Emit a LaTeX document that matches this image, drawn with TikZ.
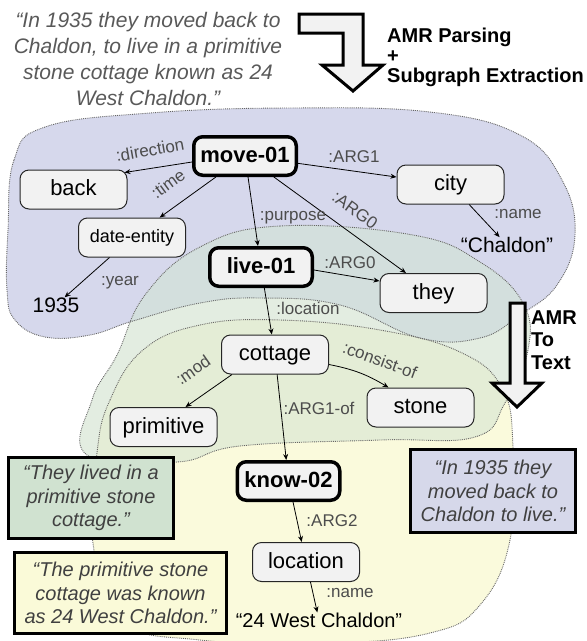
\documentclass[tikz,border=0pt]{standalone}
\usepackage{fontspec}
\setmainfont{Liberation Sans}
\usetikzlibrary{arrows.meta}
\definecolor{purpleC}{HTML}{D6D8EC}
\definecolor{greenC}{HTML}{E3EDE1}
\definecolor{tealC}{HTML}{D3DFDD}
\definecolor{ygC}{HTML}{E4EDD6}
\definecolor{yellowC}{HTML}{FAFADC}
\definecolor{nodeC}{HTML}{F2F2F2}
\definecolor{gboxC}{HTML}{D0E2D0}
\definecolor{pboxC}{HTML}{D6D8EA}
\definecolor{yboxC}{HTML}{FAFAD8}
\begin{document}
\begin{tikzpicture}[x=1pt,y=-1pt,
  amr/.style={draw=black!85, line width=1pt, fill=nodeC, rounded corners=9pt,
    minimum width=107pt, minimum height=39pt, inner sep=0pt,
    text height=15pt, text depth=3pt, font=\fontsize{22}{26}\selectfont},
  amrb/.style={amr, draw=black, line width=3.5pt, minimum width=102.5pt,
    minimum height=38.5pt, font=\bfseries\fontsize{22}{26}\selectfont},
  txt/.style={inner sep=0pt, font=\fontsize{21}{25}\selectfont},
  lbl/.style={inner sep=0pt, text=black!70, font=\fontsize{17}{20}\selectfont},
  arr/.style={-{Stealth[length=6pt,width=5pt]}, line width=0.8pt, black},
  blobline/.style={densely dotted, line width=0.9pt, black!60},
  tbox/.style={draw=black, line width=3pt, inner sep=0pt, align=center,
    text=black!75, font=\itshape\fontsize{20}{23.5}\selectfont},
  bigarrow/.style={draw=black, line width=3pt, fill=nodeC, line join=miter},
  steplbl/.style={inner sep=0pt, align=left, font=\bfseries\fontsize{20}{20}\selectfont}
]
\useasboundingbox (0,0) rectangle (587,641);

% ---- blobs ----
\fill[purpleC] plot[smooth cycle, tension=0.7] coordinates {(8,230) (14,160) (45,127) (150,113) (290,108) (430,112) (520,135) (562,180) (575,235) (557,285) (520,315) (480,338) (420,338) (340,305) (260,298) (200,303) (133,321) (90,335) (45,337) (15,320) (7,290)};
\fill[greenC] plot[smooth cycle, tension=0.7] coordinates {(200,247) (280,226) (413,235) (480,262) (523,303) (528,350) (505,403) (475,437) (380,440) (240,446) (177,462) (87,455) (92,400) (117,355) (145,295)};
\fill[yellowC] plot[smooth cycle, tension=0.7] coordinates {(97,453) (110,400) (143,350) (200,325) (280,320) (380,330) (460,352) (502,388) (513,447) (510,540) (480,605) (430,633) (330,643) (200,640) (120,620) (93,543)};
\begin{scope}
\clip plot[smooth cycle, tension=0.7] coordinates {(200,247) (280,226) (413,235) (480,262) (523,303) (528,350) (505,403) (475,437) (380,440) (240,446) (177,462) (87,455) (92,400) (117,355) (145,295)};
\fill[tealC] plot[smooth cycle, tension=0.7] coordinates {(8,230) (14,160) (45,127) (150,113) (290,108) (430,112) (520,135) (562,180) (575,235) (557,285) (520,315) (480,338) (420,338) (340,305) (260,298) (200,303) (133,321) (90,335) (45,337) (15,320) (7,290)};
\fill[ygC] plot[smooth cycle, tension=0.7] coordinates {(97,453) (110,400) (143,350) (200,325) (280,320) (380,330) (460,352) (502,388) (513,447) (510,540) (480,605) (430,633) (330,643) (200,640) (120,620) (93,543)};
\end{scope}
\draw[blobline] plot[smooth cycle, tension=0.7] coordinates {(8,230) (14,160) (45,127) (150,113) (290,108) (430,112) (520,135) (562,180) (575,235) (557,285) (520,315) (480,338) (420,338) (340,305) (260,298) (200,303) (133,321) (90,335) (45,337) (15,320) (7,290)};
\draw[blobline] plot[smooth cycle, tension=0.7] coordinates {(200,247) (280,226) (413,235) (480,262) (523,303) (528,350) (505,403) (475,437) (380,440) (240,446) (177,462) (87,455) (92,400) (117,355) (145,295)};
\draw[blobline] plot[smooth cycle, tension=0.7] coordinates {(97,453) (110,400) (143,350) (200,325) (280,320) (380,330) (460,352) (502,388) (513,447) (510,540) (480,605) (430,633) (330,643) (200,640) (120,620) (93,543)};

% ---- top sentence and arrows ----
\node[align=center, inner sep=0pt, text=black!65, font=\itshape\fontsize{21}{26}\selectfont] (sent) at (148,59)
  {“In 1935 they moved back to\\Chaldon, to live in a primitive\\stone cottage known as 24\\West Chaldon.”};
\draw[bigarrow] (299,14) -- (363,14) -- (363,65) -- (383,65) -- (353,91) -- (322,65) -- (343,65) -- (343,33) -- (299,33) -- cycle;
\node[steplbl, anchor=west] (parse) at (387,57) {AMR Parsing\\+\\Subgraph Extraction};
\draw[bigarrow] (510,303) -- (525,303) -- (525,383) -- (542,383) -- (517,407) -- (492,383) -- (510,383) -- cycle;
\node[steplbl, anchor=west, font=\bfseries\fontsize{20}{22.5}\selectfont] (totext) at (531,340) {AMR\\To\\Text};

% ---- AMR nodes ----
\node[amrb] (move) at (245,156) {move-01};
\node[amr] (back) at (73.5,189.5) {back};
\node[amr, font=\fontsize{18}{20}\selectfont, text height=13pt] (date) at (132,237.5) {date-entity};
\node[amr] (city) at (450.5,184.5) {city};
\node[txt] (chaldon) at (507,245) {“Chaldon”};
\node[txt] (y1935) at (56,305) {1935};
\node[amrb] (live) at (261,267) {live-01};
\node[amr] (they) at (433.5,293) {they};
\node[amr] (cottage) at (275,354.5) {cottage};
\node[amr] (prim) at (163.5,427) {primitive};
\node[amr] (stone) at (420.5,407.5) {stone};
\node[amrb] (know) at (288.5,481) {know-02};
\node[amr] (loc) at (306,562) {location};
\node[txt, font=\fontsize{20}{24}\selectfont] (wc) at (319,620) {“24 West Chaldon”};

% ---- edges ----
\draw[arr] ([yshift=-6pt]move.west) -- ([xshift=-3pt,yshift=-3pt]back.north east);
\draw[arr] (move) -- (date);
\draw[arr] (move) -- (live);
\draw[arr] (move) -- (city);
\draw[arr] (move) -- (they);
\draw[arr] ([yshift=-3pt]live.east) -- ([yshift=12pt]they.west);
\draw[arr] (city) -- (chaldon);
\draw[arr] (date) -- (y1935);
\draw[arr] (live) -- (cottage);
\draw[arr] ([xshift=11pt]cottage.south west) -- ([xshift=22pt]prim.north);
\draw[arr] ([yshift=-10pt]cottage.east) to[bend left=10] ([xshift=-32pt]stone.north);
\draw[arr] (cottage) -- (know);
\draw[arr] (know) -- (loc);
\draw[arr] (loc) -- (wc);

% ---- edge labels ----
\node[lbl, rotate=10] (ldir) at (150,150) {:direction};
\node[lbl, rotate=36] (ltime) at (168,184) {:time};
\node[lbl] (lpurp) at (293,218) {:purpose};
\node[lbl] (larg1) at (354,157) {:ARG1};
\node[lbl, rotate=-36] (larg0a) at (355,210) {:ARG0};
\node[lbl] (lname1) at (518,214) {:name};
\node[lbl] (larg0b) at (350,263) {:ARG0};
\node[lbl] (lyear) at (120,283) {:year};
\node[lbl] (lloc) at (308,308) {:location};
\node[lbl, rotate=35] (lmod) at (193,370) {:mod};
\node[lbl, rotate=-20] (lcons) at (380,360) {:consist-of};
\node[lbl] (larg1of) at (319,408) {:ARG1-of};
\node[lbl] (larg2) at (332,521) {:ARG2};
\node[lbl] (lname2) at (350,593) {:name};

% ---- text boxes ----
\node[tbox, fill=gboxC, minimum width=165pt, minimum height=81pt] (gbox) at (91,498)
  {“They lived in a\\primitive stone\\cottage.”};
\node[tbox, fill=pboxC, minimum width=165pt, minimum height=83pt] (pbox) at (493,491)
  {“In 1935 they\\moved back to\\Chaldon to live.”};
\node[tbox, fill=yboxC, minimum width=212pt, minimum height=81pt] (ybox) at (120.5,593)
  {“The primitive stone\\cottage was known\\as 24 West Chaldon.”};
\end{tikzpicture}
\end{document}
